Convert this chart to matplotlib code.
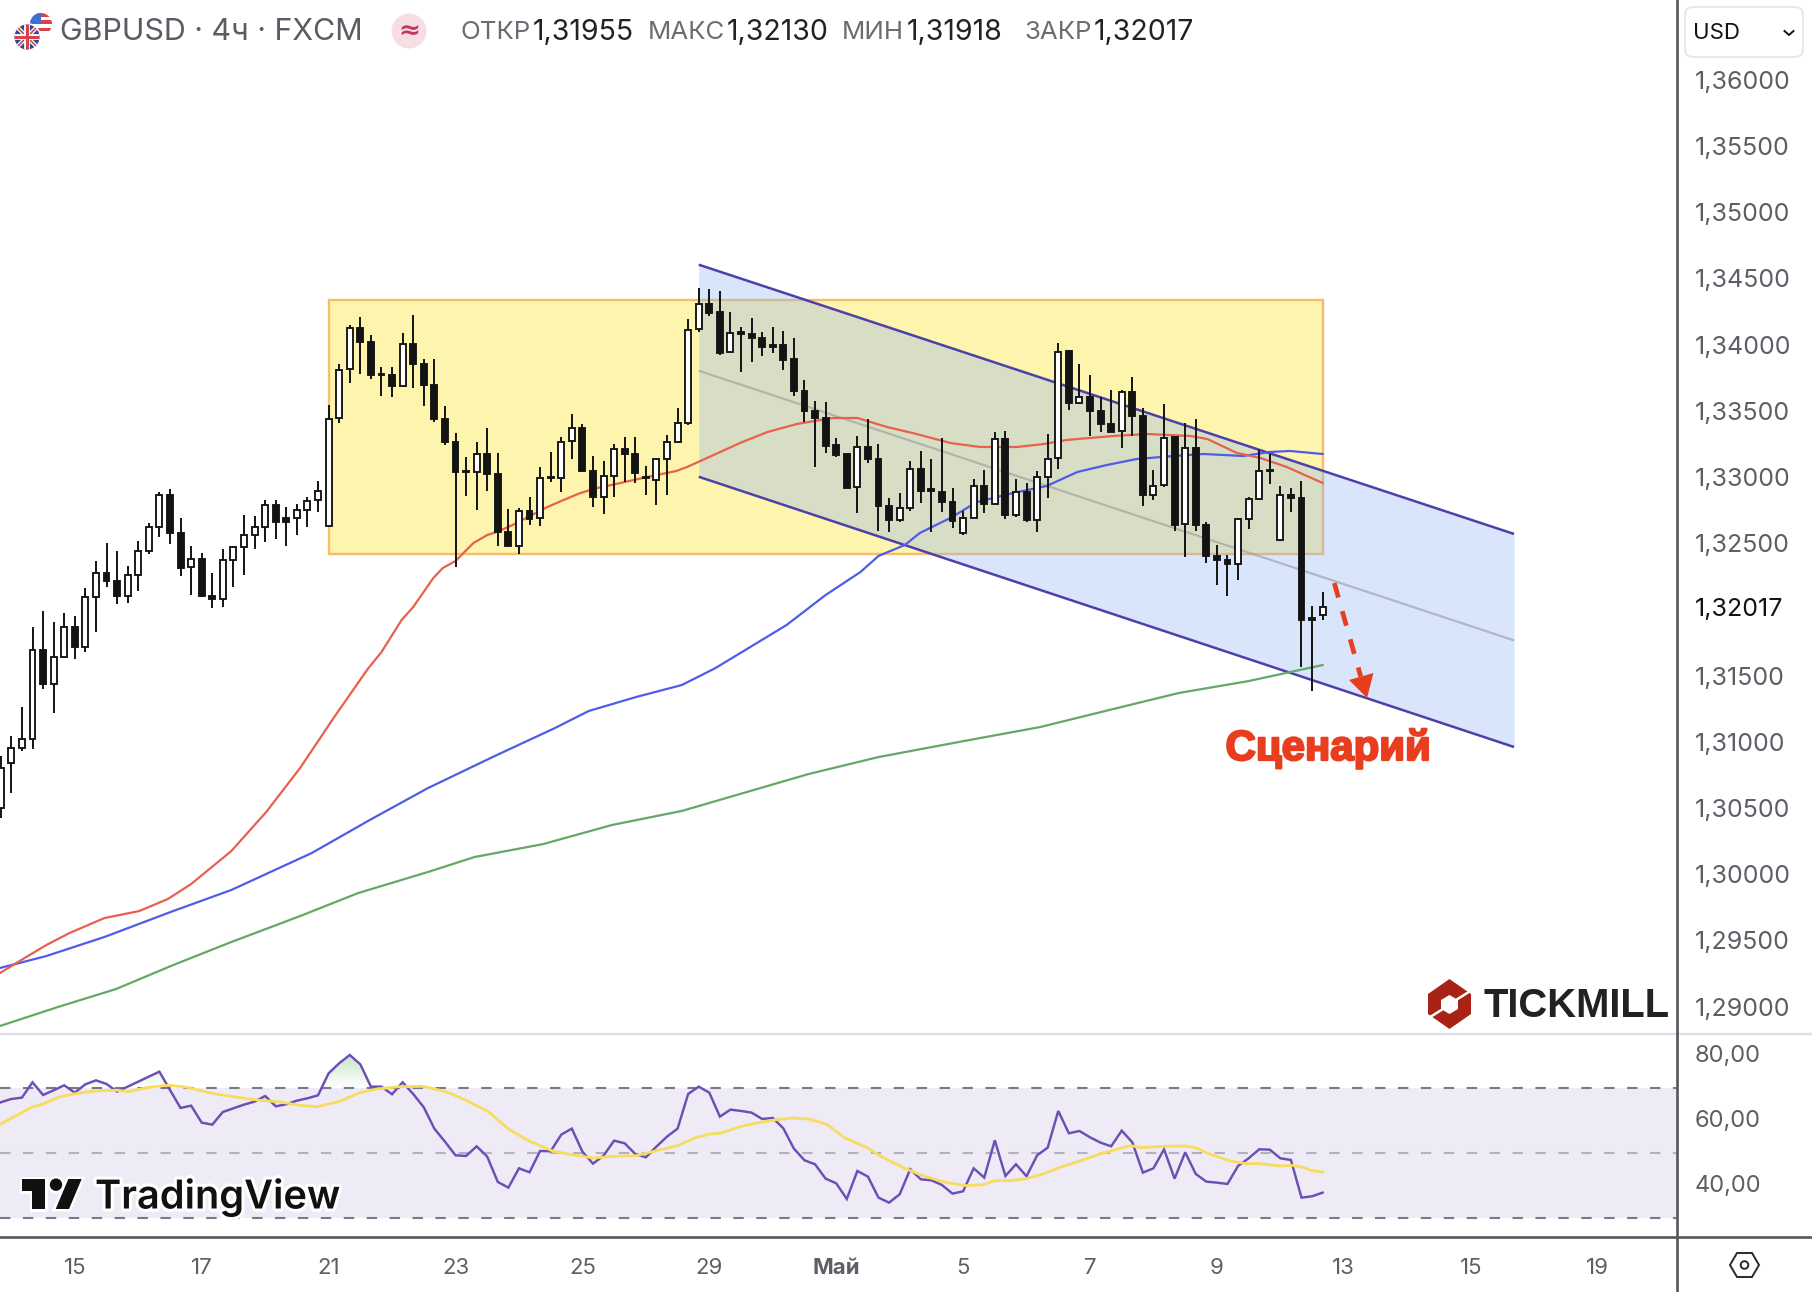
import numpy as np
import matplotlib
matplotlib.use("Agg")
import matplotlib.pyplot as plt
from matplotlib.patches import Polygon, Circle, FancyBboxPatch, Rectangle
from matplotlib.path import Path
from matplotlib.ticker import FuncFormatter
from matplotlib.colors import to_rgb
from matplotlib.transforms import ScaledTranslation
import matplotlib.patheffects as pe

plt.rcParams['font.family'] = ['Inter', 'DejaVu Sans']

# ---------- data ----------
first_bar = -7
opens = [1.30497,1.30842,1.30949,1.31022,1.31693,1.31436,1.31640,
 1.31866,1.31715,1.32093,1.32276,1.32216,1.32100,1.32259,1.32440,
 1.32623,1.32862,1.32578,1.32317,1.32382,1.32098,1.32080,1.32374,
 1.32472,1.32563,1.32623,1.32787,1.32687,1.32691,1.32752,1.32823,
 1.32631,1.33442,1.33812,1.34126,1.34021,1.33779,1.33771,1.33688,
 1.34003,1.33854,1.33695,1.33437,1.33263,1.33046,1.33034,1.33172,
 1.33021,1.32586,1.32480,1.32742,1.32687,1.32991,1.32993,1.33268,
 1.33371,1.33046,1.32850,1.33008,1.33212,1.33175,1.33001,1.32978,
 1.33137,1.33265,1.33406,1.34114,1.34307,1.34242,1.33940,1.34091,
 1.34076,1.34050,1.33997,1.33997,1.33887,1.33650,1.33499,1.33446,
 1.33238,1.33170,1.32921,1.33225,1.33137,1.32782,1.32676,1.32765,
 1.33059,1.32906,1.32888,1.32812,1.32578,1.32691,1.32933,1.32797,
 1.33288,1.32712,1.32888,1.32676,1.33001,1.33140,1.33948,1.33560,
 1.33605,1.33499,1.33401,1.33346,1.33643,1.33459,1.32865,1.32938,
 1.33298,1.32642,1.33220,1.32636,1.32402,1.32372,1.32344,1.32684,
 1.32833,1.33044,1.32523,1.32863,1.32840,1.31934,1.31955]
closes = [1.30804,1.30949,1.31017,1.31691,1.31434,1.31640,1.31866,
 1.31715,1.32090,1.32274,1.32213,1.32098,1.32259,1.32440,1.32621,
 1.32862,1.32574,1.32314,1.32377,1.32098,1.32078,1.32372,1.32470,
 1.32558,1.32619,1.32785,1.32659,1.32661,1.32747,1.32815,1.32891,
 1.33434,1.33807,1.34124,1.34018,1.33766,1.33769,1.33688,1.34003,
 1.33852,1.33693,1.33439,1.33263,1.33037,1.33037,1.33172,1.33021,
 1.32586,1.32478,1.32742,1.32682,1.32989,1.33001,1.33263,1.33369,
 1.33044,1.32848,1.33004,1.33210,1.33172,1.33029,1.32991,1.33132,
 1.33263,1.33404,1.34108,1.34305,1.34235,1.33935,1.34086,1.34076,
 1.34048,1.33980,1.33982,1.33882,1.33648,1.33497,1.33446,1.33233,
 1.33165,1.32916,1.33223,1.33135,1.32780,1.32674,1.32762,1.33057,
 1.32891,1.32891,1.32808,1.32666,1.32687,1.32931,1.32795,1.33283,
 1.32712,1.32883,1.32672,1.32999,1.33132,1.33942,1.33557,1.33600,
 1.33497,1.33401,1.33338,1.33640,1.33459,1.32863,1.32933,1.33293,
 1.32636,1.33218,1.32636,1.32402,1.32372,1.32342,1.32682,1.32833,
 1.33042,1.33054,1.32860,1.32842,1.31919,1.31919,1.32017]
highs = [1.30892,1.31045,1.31264,1.31864,1.31989,1.31906,1.31974,
 1.31951,1.32158,1.32367,1.32503,1.32442,1.32329,1.32518,1.32654,
 1.32888,1.32906,1.32691,1.32480,1.32427,1.32276,1.32455,1.32475,
 1.32714,1.32706,1.32823,1.32823,1.32774,1.32793,1.32845,1.32966,
 1.33540,1.33850,1.34144,1.34204,1.34069,1.33827,1.33827,1.34084,
 1.34220,1.33887,1.33887,1.33532,1.33329,1.33152,1.33265,1.33371,
 1.33178,1.32759,1.32767,1.32850,1.33076,1.33190,1.33303,1.33472,
 1.33397,1.33159,1.33122,1.33246,1.33303,1.33303,1.33084,1.33132,
 1.33318,1.33522,1.34190,1.34424,1.34416,1.34405,1.34242,1.34129,
 1.34197,1.34091,1.34129,1.34099,1.34046,1.33729,1.33570,1.33563,
 1.33291,1.33170,1.33310,1.33434,1.33250,1.32842,1.32880,1.33117,
 1.33197,1.33137,1.33291,1.32918,1.32742,1.32986,1.33049,1.33336,
 1.33344,1.32981,1.32956,1.33042,1.33321,1.34008,1.33958,1.33850,
 1.33773,1.33600,1.33653,1.33658,1.33751,1.33517,1.33049,1.33548,
 1.33310,1.33404,1.33434,1.32657,1.32488,1.32408,1.32691,1.32850,
 1.33205,1.33170,1.32933,1.32913,1.32971,1.32027,1.32130]
lows = [1.30424,1.30611,1.30931,1.30943,1.31396,1.31215,1.31640,
 1.31622,1.31675,1.31828,1.32165,1.32037,1.32045,1.32136,1.32415,
 1.32548,1.32493,1.32251,1.32108,1.32090,1.32010,1.32015,1.32166,
 1.32257,1.32455,1.32510,1.32528,1.32475,1.32559,1.32619,1.32732,
 1.32631,1.33404,1.33706,1.33776,1.33736,1.33610,1.33600,1.33688,
 1.33668,1.33535,1.33411,1.33240,1.32319,1.32855,1.32750,1.32893,
 1.32475,1.32478,1.32417,1.32634,1.32626,1.32961,1.32883,1.33135,
 1.33044,1.32772,1.32717,1.32845,1.32961,1.32951,1.32860,1.32785,
 1.32860,1.33265,1.33394,1.34091,1.34212,1.33917,1.33940,1.33791,
 1.33865,1.33910,1.33935,1.33807,1.33608,1.33414,1.33072,1.33178,
 1.33147,1.32916,1.32725,1.33104,1.32593,1.32583,1.32657,1.32740,
 1.32805,1.32583,1.32737,1.32611,1.32558,1.32691,1.32729,1.32797,
 1.32679,1.32699,1.32661,1.32581,1.32838,1.33057,1.33502,1.33548,
 1.33310,1.33336,1.33338,1.33215,1.33306,1.32780,1.32825,1.32925,
 1.32589,1.32392,1.32593,1.32347,1.32181,1.32098,1.32219,1.32604,
 1.32825,1.32946,1.32523,1.32732,1.31567,1.31381,1.31918]

ma_red_x = [-7.07,-4.9,-2.7,-0.5,2.8,6.1,8.8,11,14.8,18.1,21.3,24.6,27.7,29,30.9,32,33.9,34.8,36,37.7,39,39.9,41.4,44.7,46.2,47.8,49.4,51.6,54.1,56.9,57.9,60.4,62.9,65.5,68.3,71.7,74,76.8,79.6,82.8,85.6,89.1,91.6,93.8,98.2,101.4,105.5,107.1,109.9,112.1,114.6,118]
ma_red_y = [1.29253,1.29359,1.29464,1.29555,1.29668,1.29721,1.29812,1.29925,1.30174,1.30469,1.30801,1.31194,1.31549,1.31677,1.31919,1.32017,1.32236,1.32312,1.32365,1.32501,1.32561,1.32584,1.32637,1.32773,1.32825,1.32878,1.32916,1.32954,1.32999,1.33045,1.33075,1.33165,1.33256,1.33339,1.33400,1.33445,1.33445,1.33377,1.33324,1.33256,1.33226,1.33226,1.33248,1.33279,1.33309,1.33324,1.33309,1.33286,1.33181,1.33143,1.33075,1.32954]
ma_blue_x = [-7.07,-2.7,2.8,9.3,14.8,22.4,27.9,33.4,39.9,45.4,48.6,53.1,57.4,60.6,67.3,71,74.3,76,78.5,79.9,82.8,85.3,88.7,91.9,94.8,97.6,100.4,103.9,106.7,110.5,113,114.9,118]
ma_blue_y = [1.29291,1.29381,1.29525,1.29721,1.29880,1.30159,1.30409,1.30650,1.30899,1.31103,1.31232,1.31338,1.31428,1.31557,1.31881,1.32108,1.32282,1.32403,1.32486,1.32576,1.32690,1.32810,1.32878,1.32931,1.33037,1.33090,1.33135,1.33158,1.33173,1.33158,1.33188,1.33196,1.33173]
ma_green_x = [-7.07,-1.6,3.9,9.3,14.8,21.3,26.8,33.4,37.8,44.3,50.8,57.4,62.9,69.4,76,83.6,91.3,97.8,104.4,111,118]
ma_green_y = [1.28853,1.28996,1.29132,1.29313,1.29487,1.29683,1.29857,1.30016,1.30129,1.30227,1.30371,1.30477,1.30605,1.30756,1.30884,1.30998,1.31111,1.31239,1.31368,1.31458,1.31579]

rsi = [65.73,66.76,67.17,71.90,67.99,69.43,70.97,68.71,71.28,72.51,71.38,69.02,70.56,72.10,73.65,75.19,69.53,63.98,64.70,59.46,58.84,62.75,63.88,65.01,65.94,67.68,64.50,65.11,66.24,66.96,67.89,74.67,77.76,80.33,77.45,70.56,70.56,68.20,71.90,68.30,64.19,57.61,53.60,49.38,49.18,52.16,48.97,41.16,39.41,45.37,44.14,50.72,50.62,55.76,57.61,50.51,46.81,49.28,53.91,53.08,49.79,48.77,52.06,55.14,57.61,68.30,70.56,68.71,61.31,63.47,63.06,62.54,60.59,60.90,57.71,51.44,47.84,46.61,42.19,40.75,35.92,44.55,42.80,36.33,34.78,37.35,45.07,41.98,41.67,40.23,37.56,38.28,45.37,42.50,54.01,43.01,46.61,42.91,49.38,51.75,63.06,56.17,56.89,54.93,53.29,52.16,56.99,53.39,44.04,45.37,51.23,42.19,50.31,43.63,41.26,40.95,40.54,46.09,48.46,51.23,51.13,48.46,47.94,36.33,36.74,37.87]
rsi_ma_x = [-7.07,-4.08,-2.98,-1.56,-0.14,1.12,2.38,3.96,5.06,6.8,8.37,9.0,10.58,13.1,15.0,17.2,19.4,21.3,22.87,25.08,26.97,28.55,30.75,32.96,34.53,35.5,37.06,39.1,41.0,42.9,45.25,47.14,49.03,50.93,53.13,55.02,56.92,58.81,60.07,61.0,62.9,64.48,66.37,67.95,69.52,71.1,72.83,75.04,76.14,78.35,80.24,82.45,84.34,85.91,87.02,88.44,90.0,91.59,93.16,95.05,96.94,99.78,100.9,102.94,104.99,106.1,107.19,109.24,110.81,112.08,113.97,115.07,116.17,116.97,118.01]
rsi_ma_y = [58.94,64.19,65.22,67.27,68.30,68.92,69.33,69.43,69.02,70.25,70.87,70.97,70.36,68.40,67.48,66.45,65.83,64.80,64.39,66.04,68.71,69.84,70.56,70.66,69.43,68.51,66.24,62.85,57.50,53.91,50.62,49.49,48.56,49.07,49.28,50.82,52.26,54.93,55.96,56.17,58.22,59.36,60.38,60.90,60.49,58.94,54.73,51.54,49.18,45.58,43.01,40.95,40.03,40.34,41.57,41.57,42.19,43.63,45.68,47.64,49.79,52.36,51.75,52.16,52.26,51.64,49.90,47.64,46.81,46.81,46.09,46.30,45.68,44.65,44.24]

price_ticks = [1.29,1.295,1.30,1.305,1.31,1.315,1.325,1.33,1.335,1.34,1.345,1.35,1.355,1.36]
last_price = 1.32017
rsi_ticks = [40, 60, 80]
time_tick_pos = [0,12,24,36,48,60,72,84,96,108,120,132,144]
time_tick_lab = ['15','17','21','23','25','29','Май','5','7','9','13','15','19']

box_x = [24, 118]
box_y = [1.32415, 1.34336]
chan_x = [59, 136.1]
chan_upper = [1.34603, 1.32569]
chan_lower = [1.33001, 1.30960]
chan_mid = [1.33802, 1.31765]
arrow_x = [119.1, 121.6]
arrow_y = [1.32199, 1.31492]
head_x = [122.2, 120.5, 122.8]
head_y = [1.31330, 1.31466, 1.31519]

# ---------- layout ----------
W, H = 1812, 1292
AX_R, MAIN_B, RSI_B = 1676.5, 1034.0, 1236.7
X0, PX_PER_BAR = 74.8, 10.575
PRICE_TOP, PX_PER_PRICE = 1.36602, 13240.0
RSI_50, PX_PER_RSI = 1153.3, 3.242

INK = '#131313'
AXTXT = '#5d5f66'
AXLINE = '#55565a'

fig = plt.figure(figsize=(W/100, H/100), dpi=100, facecolor='white')
ax = fig.add_axes([0, 1-MAIN_B/H, AX_R/W, MAIN_B/H])
ar = fig.add_axes([0, 1-RSI_B/H, AX_R/W, (RSI_B-MAIN_B)/H])
ov = fig.add_axes([0, 0, 1, 1], zorder=10)
ov.set_xlim(0, W); ov.set_ylim(H, 0); ov.axis('off'); ov.patch.set_alpha(0)

xlim = (-X0/PX_PER_BAR, (AX_R-X0)/PX_PER_BAR)
for a in (ax, ar):
    a.set_xlim(*xlim)
    for s in a.spines.values():
        s.set_visible(False)
ax.set_ylim(PRICE_TOP - MAIN_B/PX_PER_PRICE, PRICE_TOP)
ar.set_ylim(50-(RSI_B-RSI_50)/PX_PER_RSI, 50+(RSI_50-MAIN_B)/PX_PER_RSI)

# ---------- main pane ----------
ax.add_patch(Rectangle((box_x[0], box_y[0]), box_x[1]-box_x[0], box_y[1]-box_y[0],
                       facecolor='#FDF4AE', edgecolor='#F7BE6A', lw=1.7, zorder=1))
ax.fill_between(chan_x, chan_lower, chan_upper, color=(139/255,179/255,245/255), alpha=0.33, lw=0, zorder=2)
ax.plot(chan_x, chan_mid, color='#9a9a9a', alpha=0.6, lw=1.6, zorder=2.2, solid_capstyle='butt')
for yy in (chan_upper, chan_lower):
    ax.plot(chan_x, yy, color='#4F3FA8', lw=1.8, zorder=2.5, solid_capstyle='butt')

ax.plot(ma_green_x, ma_green_y, color='#65A765', lw=1.6, zorder=3)
ax.plot(ma_blue_x, ma_blue_y, color='#4F5CE8', lw=1.6, zorder=3)
ax.plot(ma_red_x, ma_red_y, color='#E8604E', lw=1.6, zorder=3)

bars = np.arange(first_bar, first_bar+len(opens))
o, c = np.array(opens), np.array(closes)
ax.vlines(bars, lows, highs, color=INK, lw=1.4, zorder=4)
ax.bar(bars, np.abs(c-o), bottom=np.minimum(o, c), width=0.56,
       color=['white' if cc >= oo else INK for oo, cc in zip(o, c)],
       edgecolor=INK, linewidth=1.35, zorder=5)

RED = '#E83E1F'
ax.plot(arrow_x, arrow_y, color=RED, lw=3.4, dashes=(3.2, 3.0), zorder=6, dash_capstyle='butt')
ax.add_patch(Polygon(np.column_stack([head_x, head_y]), closed=True, facecolor=RED, edgecolor='none', zorder=6))

ax.set_yticks(price_ticks + [last_price])
ax.yaxis.tick_right()
ax.yaxis.set_major_formatter(FuncFormatter(lambda v, _: f'{v:.5f}'.replace('.', ',')))
ax.tick_params(axis='y', length=0, pad=13.3, labelsize=18, labelcolor=AXTXT)
for t, v in zip(ax.get_yticklabels(), ax.get_yticks()):
    if abs(v-last_price) < 1e-9:
        t.set_color('#131313')
ax.set_xticks([])

# ---------- RSI pane ----------
rsi_arr = np.array(rsi)
ar.axhspan(30, 70, color='#EEEBF7', lw=0, zorder=1)
coll = ar.fill_between(bars, rsi_arr, 70, where=rsi_arr > 70, interpolate=True, color='none', lw=0)
grad = np.zeros((64, 2, 4))
gc = to_rgb('#4CAF50')
grad[..., 0], grad[..., 1], grad[..., 2] = gc
grad[..., 3] = np.linspace(0.34, 0.0, 64)[:, None]
cur_x, cur_y = ar.get_xlim(), ar.get_ylim()
im = ar.imshow(grad, extent=(xlim[0], xlim[1], 70, 81), aspect='auto', origin='upper', zorder=1.5, interpolation='bilinear')
im.set_clip_path(Path.make_compound_path(*coll.get_paths()), transform=ar.transData)
ar.set_xlim(cur_x); ar.set_ylim(cur_y)
ar.axhline(70, color='#787B86', lw=1.5, dashes=(5, 6), zorder=2, dash_capstyle='butt')
ar.axhline(50, color='#787B86', lw=1.5, alpha=0.5, dashes=(5, 6), zorder=2, dash_capstyle='butt')
ar.axhline(30, color='#787B86', lw=1.5, dashes=(5, 6), zorder=2, dash_capstyle='butt')
ar.plot(bars, rsi, color='#6B4FB5', lw=1.75, zorder=3, solid_joinstyle='miter')
ar.plot(rsi_ma_x, rsi_ma_y, color='#F7DC5E', lw=2.0, zorder=3.5)
ar.set_yticks(rsi_ticks)
ar.yaxis.tick_right()
ar.yaxis.set_major_formatter(FuncFormatter(lambda v, _: f'{v:.2f}'.replace('.', ',')))
ar.tick_params(axis='y', length=0, pad=13.3, labelsize=17, labelcolor=AXTXT)
lift = ScaledTranslation(0, 1.8/72, fig.dpi_scale_trans)
for t in ar.get_yticklabels():
    t.set_transform(t.get_transform() + lift)
ar.set_xticks(time_tick_pos, time_tick_lab)
ar.set_xlim(*xlim)
ar.tick_params(axis='x', length=0, pad=15, labelsize=16, labelcolor=AXTXT)
for t in ar.get_xticklabels():
    if t.get_text() == 'Май':
        t.set_fontweight('bold')

# ---------- frame lines ----------
ov.plot([0, W], [MAIN_B, MAIN_B], color='#DCE0EC', lw=1.7, zorder=1)
ov.plot([0, W], [RSI_B, RSI_B], color=AXLINE, lw=1.9, zorder=1)
ov.plot([AX_R, AX_R], [0, H], color=AXLINE, lw=1.9, zorder=2)

# ---------- header ----------
def txt(x, s, col, y=32.5, size=20.5, **kw):
    ov.text(x, y, s, color=col, fontsize=size, va='center', ha='left', **kw)

txt(60, 'GBPUSD · 4ч · FXCM', '#5a5c63', size=21.9)
for x, s in ((460, 'ОТКР'), (648, 'МАКС'), (842, 'МИН'), (1024, 'ЗАКР')):
    txt(x, s, '#6a6c73', size=18.6)
for x, s in ((533, '1,31955'), (727, '1,32130'), (907, '1,31918'), (1094, '1,32017')):
    txt(x, s, '#222222')

# flags
c_us = Circle((41, 24), 11, transform=ov.transData)
for k in range(6):
    r = ov.add_patch(Rectangle((30, 13+k*3.7), 22, 3.7, facecolor='#D8434A' if k % 2 == 0 else 'white', edgecolor='none', zorder=3))
    r.set_clip_path(c_us)
r = ov.add_patch(Rectangle((30, 13), 11, 11, facecolor='#3C6FD0', edgecolor='none', zorder=3.1)); r.set_clip_path(c_us)
c_uk = Circle((27, 37), 12.5, transform=ov.transData)
ov.add_patch(Circle((27, 37), 14, facecolor='white', edgecolor='none', zorder=3.2))
r = ov.add_patch(Rectangle((14, 24), 26, 26, facecolor='#2B4A9B', edgecolor='none', zorder=3.3)); r.set_clip_path(c_uk)
for xs, ys, lw, col in (([14, 40], [24, 50], 3.0, 'white'), ([14, 40], [50, 24], 3.0, 'white'),
                        ([14, 40], [24, 50], 1.2, '#D8434A'), ([14, 40], [50, 24], 1.2, '#D8434A'),
                        ([27, 27], [24, 50], 4.2, 'white'), ([14, 40], [37, 37], 4.2, 'white'),
                        ([27, 27], [24, 50], 2.2, '#D8434A'), ([14, 40], [37, 37], 2.2, '#D8434A')):
    l, = ov.plot(xs, ys, color=col, lw=lw, zorder=3.4); l.set_clip_path(c_uk)

ov.add_patch(Circle((409, 31), 17.5, facecolor='#F5DFE5', edgecolor='none', zorder=3))
ov.text(409, 30.5, '≈', color='#C43860', fontsize=19, fontweight='bold', ha='center', va='center', zorder=4,
        family=['DejaVu Sans'])

# USD selector
ov.add_patch(FancyBboxPatch((1689, 11), 110, 42, boxstyle='round,pad=4,rounding_size=8',
                            facecolor='white', edgecolor='#E8E8E8', lw=1.4, zorder=3))
ov.text(1693, 33, 'USD', color='#131313', fontsize=16, ha='left', va='center', zorder=4)
ov.plot([1784.5, 1789, 1793.5], [31, 35, 31], color='#131313', lw=1.4, zorder=4)

# settings icon
ov.add_patch(Polygon([(1730, 1265), (1737, 1253), (1752, 1253), (1759, 1265), (1752, 1277), (1737, 1277)],
                     closed=True, facecolor='none', edgecolor='#2a2a2a', lw=1.4, zorder=4))
ov.add_patch(Circle((1744.5, 1265), 3.8, facecolor='none', edgecolor='#2a2a2a', lw=1.4, zorder=4))

# scenario label
ov.text(1328, 748.5, 'Сценарий', color=RED, fontsize=30.2, fontweight='bold', family=['Liberation Sans'],
        ha='center', va='center', zorder=5,
        path_effects=[pe.withStroke(linewidth=1.6, foreground=RED)])

# TICKMILL logo
LOGO = '#A82315'
ov.add_patch(Polygon([(1449.5, 979), (1471, 994), (1471, 1014), (1449.5, 1029), (1428, 1014), (1428, 994)],
                     closed=True, facecolor=LOGO, edgecolor='none', zorder=3))
ov.add_patch(Polygon([(1449.5, 995), (1458, 1000), (1458, 1009), (1449.5, 1014), (1441, 1009), (1441, 1000)],
                     closed=True, facecolor='white', edgecolor='none', zorder=3.1))
ov.plot([1456, 1472], [1000, 990], color='white', lw=1.8, zorder=3.2)
ov.plot([1427, 1443], [1019, 1009], color='white', lw=1.8, zorder=3.2)
ov.text(1483, 1006, 'TICKMILL', color='#222222', fontsize=28.8, fontweight='bold', family=['Liberation Sans'],
        ha='left', va='center', zorder=4)

# TradingView logo
halo = [pe.withStroke(linewidth=4.5, foreground='white')]
sx = lambda v: v/3
sy = lambda v: 1030+v/3
tv_parts = [
    Polygon([(sx(65), sy(447)), (sx(135), sy(447)), (sx(135), sy(537)), (sx(97), sy(537)), (sx(97), sy(482)), (sx(65), sy(482))], closed=True),
    Polygon([(sx(205), sy(447)), (sx(245), sy(447)), (sx(207), sy(537)), (sx(167), sy(537))], closed=True),
    Circle((sx(168), sy(464)), 6.2),
]
for p in tv_parts:
    p.set(facecolor='#111111', edgecolor='white', lw=3.5, zorder=3)
    ov.add_patch(p)
for p in tv_parts:
    q = ov.add_patch(type(p)(p.get_xy(), closed=True) if isinstance(p, Polygon) else Circle(p.center, p.radius))
    q.set(facecolor='#111111', edgecolor='none', zorder=3.1)
ov.text(95, 1197, 'TradingView', color='#111111', fontsize=28.6, fontweight='semibold', ha='left', va='center',
        zorder=4, path_effects=halo)

fig.savefig('out.png', dpi=100, facecolor='white')
